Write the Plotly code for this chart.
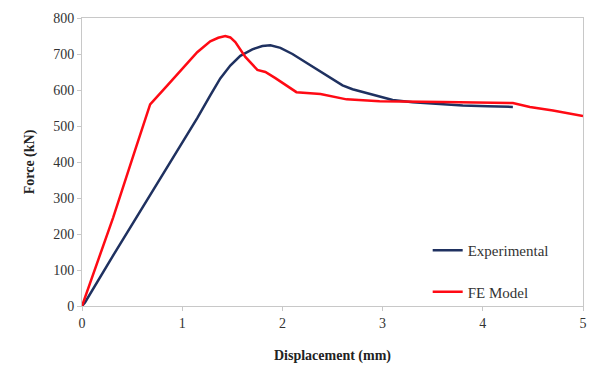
import plotly.graph_objects as go

# Experimental curve
exp_disp = [0.0, 0.03, 0.31, 0.65, 0.98, 1.15, 1.28, 1.38, 1.48, 1.58, 1.70, 1.80, 1.88, 1.98, 2.10, 2.24, 2.36, 2.48, 2.60, 2.70, 2.85, 2.97, 3.10, 3.30, 3.47, 3.65, 3.80, 4.05, 4.30]
exp_force = [0.0, 10, 140, 294, 445, 522, 585, 632, 668, 695, 713, 722, 724, 717, 700, 675, 655, 633, 613, 602, 590, 581, 572, 566, 563, 559, 557, 555, 553]

# FE model curve
fe_disp = [0.0, 0.31, 0.53, 0.68, 0.85, 1.03, 1.15, 1.28, 1.36, 1.43, 1.48, 1.53, 1.63, 1.75, 1.83, 1.93, 2.05, 2.14, 2.38, 2.64, 2.97, 3.14, 3.60, 4.30, 4.47, 4.70, 5.0]
fe_force = [0.0, 245, 433, 560, 612, 669, 705, 735, 745, 750, 746, 733, 692, 656, 650, 633, 612, 594, 589, 574, 569, 569, 567, 564, 553, 543, 528]

x_ticks = [0, 1, 2, 3, 4, 5]
y_ticks = [0, 100, 200, 300, 400, 500, 600, 700, 800]

fig = go.Figure()
fig.add_trace(go.Scatter(x=exp_disp, y=exp_force, mode="lines", name="Experimental",
                         line=dict(color="#1F3160", width=2.5), legendgroup="a"))
fig.add_trace(go.Scatter(x=fe_disp, y=fe_force, mode="lines", name="FE Model",
                         line=dict(color="#FF0A14", width=2.5), legendgroup="b"))

serif = "Liberation Serif"
axis_common = dict(showgrid=False, zeroline=False, showline=True, mirror=True,
                   linecolor="#C8C8C8", linewidth=1, ticks="outside", ticklen=4,
                   tickcolor="#C8C8C8", tickfont=dict(family=serif, size=14, color="#333333"))

fig.update_layout(
    width=590, height=369,
    font=dict(family=serif),
    margin=dict(l=82, r=7, t=18, b=63),
    paper_bgcolor="white", plot_bgcolor="white",
    xaxis=dict(range=[0, 5], tickvals=x_ticks, automargin="bottom",
               title=dict(text="<b>Displacement (mm)</b>", standoff=20,
                          font=dict(family=serif, size=14, color="#222222")),
               **axis_common),
    yaxis=dict(range=[0, 800], tickvals=y_ticks, automargin=False,
               title=dict(text="<b>Force (kN)</b>", font=dict(family=serif, size=14, color="#222222")),
               **axis_common),
    legend=dict(x=0.69, y=0.25, xanchor="left", yanchor="top", bgcolor="rgba(0,0,0,0)",
                font=dict(family=serif, size=15, color="#333333"), tracegroupgap=19,
                itemwidth=30),
    showlegend=True,
)

fig.write_html("out.html", config={"displayModeBar": False},
               post_script="document.body.style.margin='0';")
